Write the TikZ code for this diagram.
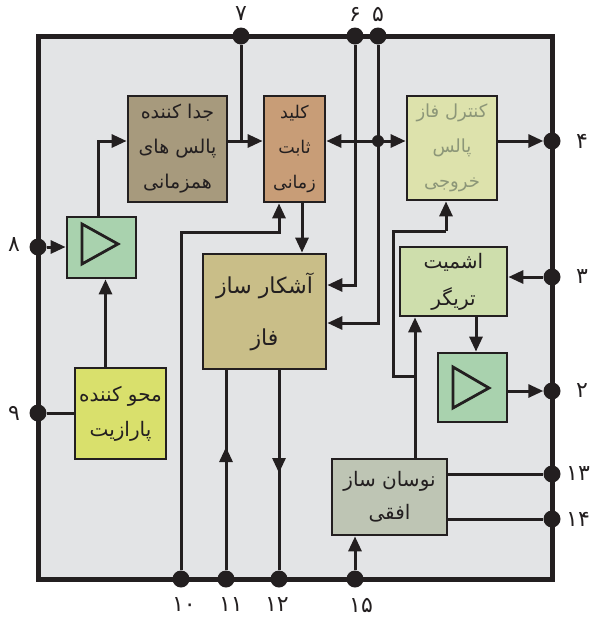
\documentclass[tikz,border=0pt]{standalone}
\usepackage{fontspec}
\usetikzlibrary{arrows.meta,calc}
\TeXXeTstate=1
\newfontfamily\arabicfont[Script=Arabic]{DejaVu Sans}
\newfontfamily\digitfont{DejaVu Sans}
\newcommand{\rl}[1]{\beginR #1\endR}
\newcommand{\arsize}[2]{\arabicfont\fontsize{#1}{#2}\selectfont}
\definecolor{ink}{HTML}{231F20}
\definecolor{panel}{HTML}{E3E4E6}
\definecolor{csync}{HTML}{A79A7D}
\definecolor{ckey}{HTML}{C89D77}
\definecolor{cctrl}{HTML}{DDE2AC}
\definecolor{ctrig}{HTML}{CEDEAC}
\definecolor{camp}{HTML}{A9D2AE}
\definecolor{cpar}{HTML}{D9E06C}
\definecolor{cdet}{HTML}{C9BE88}
\definecolor{cosc}{HTML}{BEC5B4}
\definecolor{ctext}{HTML}{8C9678}
\tikzset{
  blockbox/.style={draw=ink,line width=2.8pt,inner sep=0pt,align=center,text=ink},
  pin/.style={circle,fill=ink,inner sep=0pt,minimum size=17pt},
  junction/.style={circle,fill=ink,inner sep=0pt,minimum size=12pt},
  conn/.style={draw=ink,line width=3pt},
  arr/.style={conn,-{Triangle[length=15pt,width=13pt]}},
  arrs/.style={conn,{Triangle[length=15pt,width=13pt]}-{Triangle[length=15pt,width=13pt]}},
  amptri/.style={draw=ink,line width=2.8pt,line join=miter},
  numlabel/.style={text=ink,font=\digitfont\fontsize{22}{22}\selectfont,inner sep=0pt}
}
\begin{document}
\begin{tikzpicture}[x=1pt,y=-1pt]
\useasboundingbox (0,0) rectangle (592,619);
\node[draw=ink,fill=panel,line width=5pt,inner sep=0pt,minimum width=514pt,minimum height=543pt] (frame) at (295,307.5) {};
% blocks
\node[blockbox,fill=csync,minimum width=99pt,minimum height=106pt,font=\arsize{19}{35}] (sync) at (177.5,149) {\rl{جدا کننده}\\\rl{پالس های}\\\rl{همزمانی}};
\node[blockbox,fill=ckey,minimum width=61pt,minimum height=106pt,font=\arsize{17.5}{35}] (key) at (294.5,149) {\rl{کلید}\\\rl{ثابت}\\\rl{زمانی}};
\node[blockbox,fill=cctrl,text=ctext,minimum width=90pt,minimum height=104pt,font=\arsize{18}{35}] (ctrl) at (452,148) {\rl{کنترل فاز}\\\rl{پالس}\\\rl{خروجی}};
\node[blockbox,fill=ctrig,minimum width=107pt,minimum height=69pt,font=\arsize{20}{37}] (trig) at (453.5,281.5) {\rl{اشمیت}\\\rl{تریگر}};
\node[blockbox,fill=camp,minimum width=69pt,minimum height=69pt] (amptwo) at (472.5,387.5) {};
\node[blockbox,fill=camp,minimum width=69pt,minimum height=61pt] (ampone) at (101.5,247.5) {};
\node[blockbox,fill=cpar,minimum width=91pt,minimum height=91pt,font=\arsize{20}{35}] (par) at (120.5,413.5) {\rl{محو کننده}\\\rl{پارازیت}};
\node[blockbox,fill=cdet,minimum width=123pt,minimum height=115pt,font=\arsize{22}{52}] (det) at (264.5,311.5) {\rl{آشکار ساز}\\\rl{فاز}};
\node[blockbox,fill=cosc,minimum width=115pt,minimum height=76pt,font=\arsize{20}{33}] (osc) at (389.5,497) {\rl{نوسان ساز}\\\rl{افقی}};
\draw[amptri] (453,367) -- (453,408) -- (489,388) -- cycle;
\draw[amptri] (82,224) -- (82,264) -- (118,244) -- cycle;
% pins
\node[pin] (p7) at (241,36) {};
\node[pin] (p6) at (355,36) {};
\node[pin] (p5) at (378,36) {};
\node[pin] (p4) at (552,141) {};
\node[pin] (p3) at (552,277) {};
\node[pin] (p2) at (552,391) {};
\node[pin] (p13) at (552,474) {};
\node[pin] (p14) at (552,519) {};
\node[pin] (p8) at (38,247) {};
\node[pin] (p9) at (38,413) {};
\node[pin] (p10) at (181,579) {};
\node[pin] (p11) at (226,579) {};
\node[pin] (p12) at (279,579) {};
\node[pin] (p15) at (355,579) {};
\node[junction] (jn) at (378,141) {};
% helper points
\coordinate (c10) at (181,232);
\coordinate (c10b) at (279,232);
\coordinate (tip11) at (226,447);
\coordinate (tip12) at (279,473);
\coordinate (tap) at (415,376);
\coordinate (fbl) at (393,376);
\coordinate (fbt) at (393,231);
\coordinate (fbr) at (446,231);
\coordinate (up) at (98,141);
% connectors
\draw[conn] (p7) -- (p7 |- p4);
\draw[arr] (sync.east |- p4) -- (key.west |- p4);
\draw[arrs] (key.east |- p4) -- (ctrl.west |- p4);
\draw[arr] (ctrl.east |- p4) -- (p4);
\draw[arr] (p6) -- (p6 |- 0,285) -- (det.east |- 0,285);
\draw[arr] (p5) -- (p5 |- 0,323) -- (det.east |- 0,323);
\draw[arr] (p3) -- (trig.east |- p3);
\draw[arr] (p8) -- (ampone.west |- p8);
\draw[arr] (ampone.north -| up) -- (up) -- (sync.west |- up);
\draw[arr] (par.north -| 105.5,0) -- (ampone.south -| 105.5,0);
\draw[conn] (p9) -- (par.west |- p9);
\draw[arr] (key.south -| 302,0) -- (det.north -| 302,0);
\draw[arr] (p10) -- (c10) -- (c10b) -- (key.south -| c10b);
\draw[arr] (p11) -- (tip11);
\draw[conn] (tip11) ++(0,10) -- (det.south -| tip11);
\draw[conn] (det.south -| tip12) -- (p12);
\draw[arr] (det.south -| tip12) -- (tip12);
\draw[arr] (p15) -- (osc.south -| p15);
\draw[conn] (osc.east |- p13) -- (p13);
\draw[conn] (osc.east |- p14) -- (p14);
\draw[arr] (osc.north -| tap) -- (trig.south -| tap);
\draw[conn] (tap) -- (fbl) -- (fbt) -- (fbr);
\draw[arr] (fbr) -- (ctrl.south -| fbr);
\draw[arr] (trig.south -| 476,0) -- (amptwo.north -| 476,0);
\draw[arr] (amptwo.east |- p2) -- (p2);
% labels
\node[numlabel] (l7) at (241,14) {۷};
\node[numlabel] (l6) at (355,14) {۶};
\node[numlabel] (l5) at (378,14) {۵};
\node[numlabel] (l4) at (582,141) {۴};
\node[numlabel] (l3) at (582,277) {۳};
\node[numlabel] (l2) at (582,391) {۲};
\node[numlabel] (l13) at (578,474) {۱۳};
\node[numlabel] (l14) at (578,519) {۱۴};
\node[numlabel] (l8) at (14,245) {۸};
\node[numlabel] (l9) at (14,413) {۹};
\node[numlabel] (l10) at (184,605) {۱۰};
\node[numlabel] (l11) at (231,605) {۱۱};
\node[numlabel] (l12) at (277,605) {۱۲};
\node[numlabel] (l15) at (361,605) {۱۵};
\end{tikzpicture}
\end{document}
